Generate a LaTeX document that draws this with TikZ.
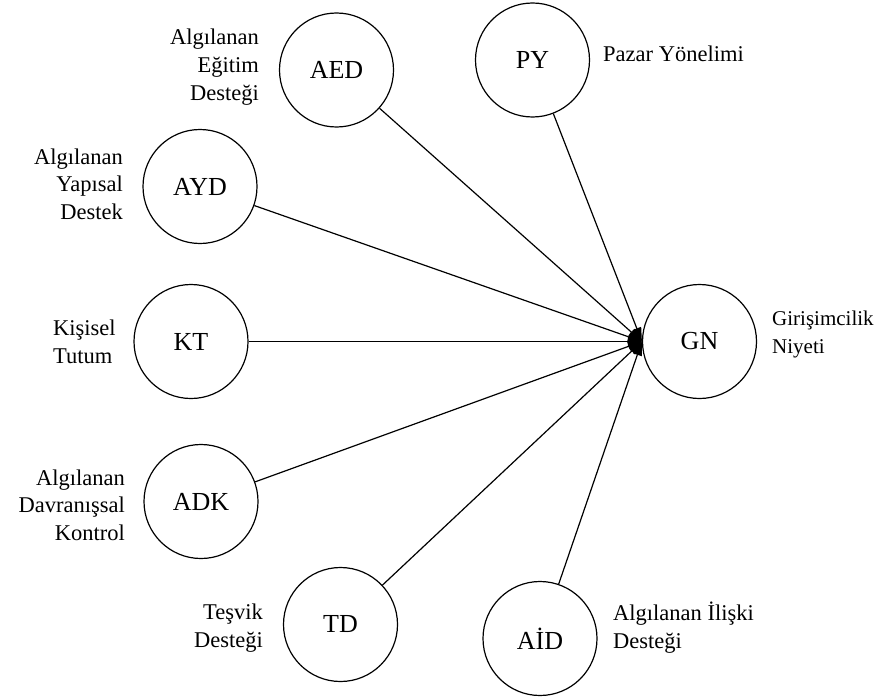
\documentclass[tikz,border=0pt]{standalone}
\usepackage{fontspec}
\setmainfont{Liberation Serif}
\usetikzlibrary{arrows.meta}
\begin{document}
\begin{tikzpicture}[x=1pt,y=-1pt,
  var/.style={circle,draw,line width=1.2pt,minimum size=114pt,inner sep=0pt,font=\fontsize{26}{30}\selectfont},
  lbl/.style={inner sep=0pt,font=\fontsize{22.5}{27.5}\selectfont},
  link/.style={line width=1.2pt,-{Triangle[length=14pt,width=9pt]}}]
\useasboundingbox[fill=white] (0,0) rectangle (877,698);
% variables
\node[var] (AED) at (336.5,70) {AED};
\node[var] (PY)  at (532.5,60) {PY};
\node[var] (AYD) at (200,186.5) {AYD};
\node[var] (KT)  at (191,341.5) {KT};
\node[var] (ADK) at (201,501.5) {ADK};
\node[var] (TD)  at (340.5,624.5) {TD};
\node[var] (AID) at (540,638.5) {AİD};
\node[var] (GN)  at (699.5,341.5) {GN};
% labels (base anchor = baseline of last line)
\node[lbl,align=right,anchor=base east] (lAED) at (259,100) {Algılanan\\Eğitim\\Desteği};
\node[lbl,align=left,anchor=base west] (lPY) at (603,62) {Pazar Yönelimi};
\node[lbl,align=right,anchor=base east] (lAYD) at (123,219) {Algılanan\\Yapısal\\Destek};
\node[lbl,align=left,anchor=base west] (lKT) at (53,363) {Kişisel\\Tutum};
\node[lbl,align=right,anchor=base east] (lADK) at (125,540) {Algılanan\\Davranışsal\\Kontrol};
\node[lbl,align=right,anchor=base east] (lTD) at (263,647) {Teşvik\\Desteği};
\node[lbl,align=left,anchor=base west] (lAID) at (613,648) {Algılanan İlişki\\Desteği};
\node[lbl,align=left,anchor=base west,font=\fontsize{21}{27.5}\selectfont] (lGN) at (772,353) {Girişimcilik\\Niyeti};
% links
\foreach \s in {AED,PY,AYD,KT,ADK,TD,AID}
  \draw[link] (\s) -- (GN.west);
\end{tikzpicture}
\end{document}
